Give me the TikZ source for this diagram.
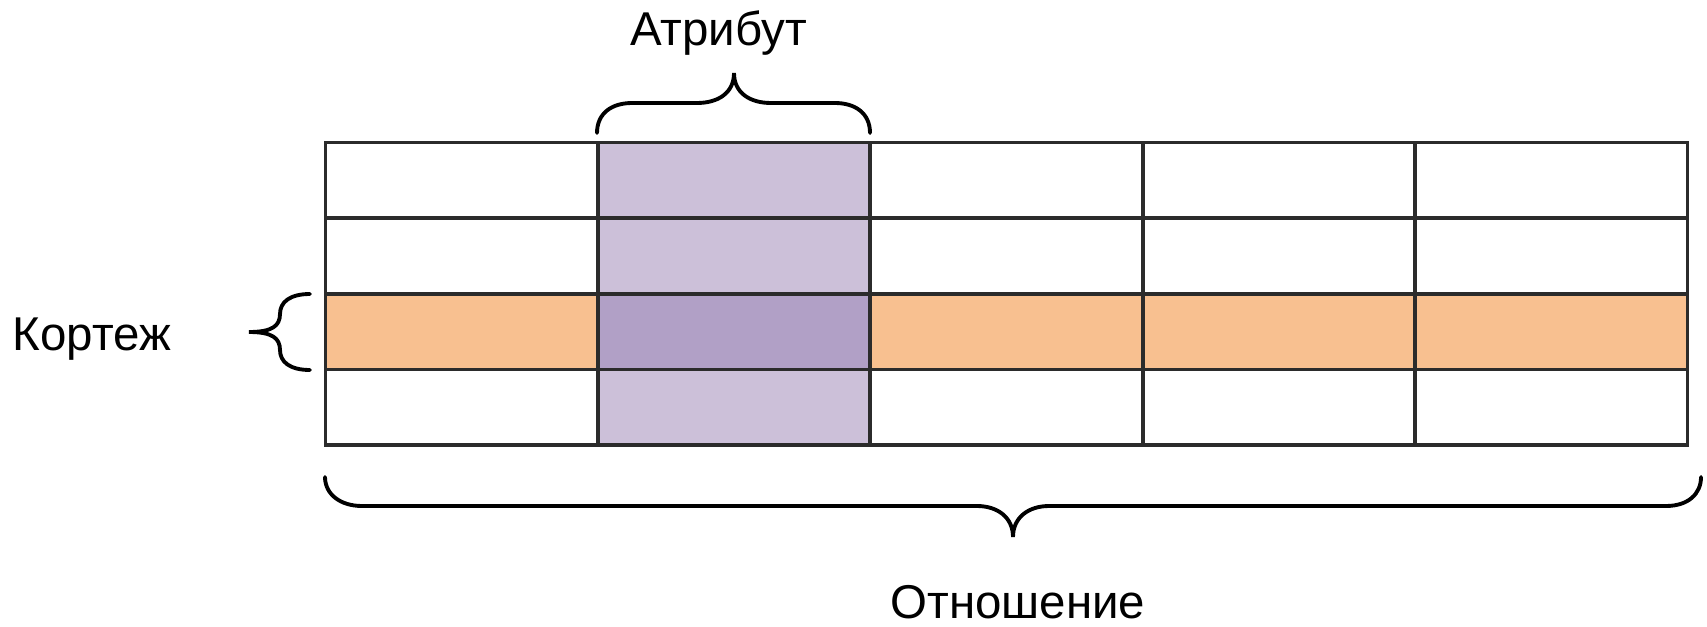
\documentclass[tikz,border=0pt]{standalone}
\usepackage{fontspec}
\setmainfont{Liberation Sans}
\usepackage{tikz}

\definecolor{gridgray}{HTML}{2B2B2B}
\definecolor{attrfill}{HTML}{CCC0D9}
\definecolor{crossfill}{HTML}{B1A0C6}
\definecolor{tuplefill}{HTML}{F8C090}

\begin{document}
\begin{tikzpicture}[
    cell/.style={draw=gridgray, line width=1.05pt},
    brace/.style={draw=black, line width=1.1pt, line cap=round},
    lbl/.style={font=\fontsize{13.5}{16}\selectfont, anchor=base, inner sep=0pt}]
    \useasboundingbox (0,0) rectangle (17.07,6.26);
    % coloured row and column
    \fill[tuplefill] (3.255,3.321) rectangle (16.875,2.565);
    \fill[attrfill] (5.979,4.834) rectangle (8.703,1.808);
    \fill[crossfill] (5.979,3.321) rectangle (8.703,2.565);
    % table cells, 5 columns x 4 rows
    \foreach \i in {0,...,4}
        \foreach \j in {0,...,3}
            \draw[cell] ({3.255+2.724*\i},{4.834-0.7565*\j}) rectangle ++(2.724,-0.7565);
    % brace over the column
    \draw[brace] (5.97,4.93) .. controls (5.97,5.13) and (6.12,5.23) .. (6.32,5.23)
        -- (6.97,5.23) .. controls (7.18,5.23) and (7.34,5.33) .. (7.34,5.53)
        .. controls (7.34,5.33) and (7.50,5.23) .. (7.71,5.23)
        -- (8.35,5.23) .. controls (8.55,5.23) and (8.70,5.13) .. (8.70,4.93);
    % brace left of the row
    \draw[brace] (3.10,3.32) .. controls (2.90,3.32) and (2.80,3.24) .. (2.80,3.12)
        .. controls (2.80,3.00) and (2.72,2.94) .. (2.49,2.94)
        .. controls (2.72,2.94) and (2.80,2.88) .. (2.80,2.76)
        .. controls (2.80,2.64) and (2.90,2.56) .. (3.10,2.56);
    % brace under the whole table
    \draw[brace] (3.25,1.49) .. controls (3.25,1.32) and (3.40,1.20) .. (3.62,1.20)
        -- (9.77,1.20) .. controls (9.97,1.20) and (10.13,1.09) .. (10.13,0.89)
        .. controls (10.13,1.09) and (10.29,1.20) .. (10.49,1.20)
        -- (16.66,1.20) .. controls (16.88,1.20) and (17.01,1.32) .. (17.01,1.49);
    \node[lbl] (attr) at (7.185,5.80) {Атрибут};
    \node[lbl] (tuple) at (0.92,2.76) {Кортеж};
    \node[lbl] (rel) at (10.18,0.08) {Отношение};
\end{tikzpicture}
\end{document}
